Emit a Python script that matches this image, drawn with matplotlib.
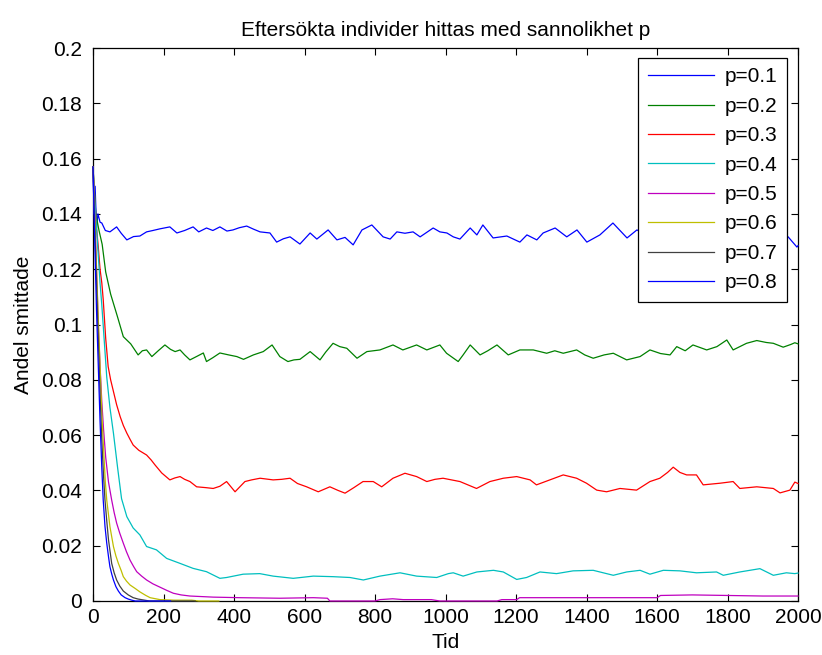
import numpy as np
import matplotlib
matplotlib.use('Agg')
import matplotlib.pyplot as plt

# -------------------------
# DATA: fraction infected over time, one run per search probability p
# each row is [time, fraction]
# -------------------------
p01 = np.array([
    [0, 0.157], [3, 0.140], [6, 0.150], [10, 0.135], [14, 0.140], [20, 0.137],
    [25, 0.1367], [35, 0.134], [48, 0.1335], [67, 0.1353], [80, 0.133], [96, 0.1306],
    [115, 0.1318], [133, 0.132], [152, 0.1335], [170, 0.1340], [190, 0.1346],
    [218, 0.1353], [238, 0.1331], [260, 0.1340], [284, 0.1353], [300, 0.1335],
    [322, 0.1349], [340, 0.1340], [360, 0.1353], [380, 0.1338], [397, 0.1342],
    [415, 0.1350], [436, 0.1356], [455, 0.1345], [474, 0.1335], [502, 0.1331],
    [521, 0.1298], [540, 0.1310], [559, 0.1317], [587, 0.1291], [616, 0.1331],
    [635, 0.1309], [667, 0.1342], [692, 0.1306], [715, 0.1315], [738, 0.1288],
    [763, 0.1342], [791, 0.1360], [823, 0.1317], [843, 0.1309], [862, 0.1335],
    [885, 0.1330], [908, 0.1335], [928, 0.1317], [965, 0.1349], [984, 0.1335],
    [1004, 0.1331], [1022, 0.1317], [1041, 0.1309], [1070, 0.1349], [1089, 0.1324],
    [1106, 0.1360], [1135, 0.1313], [1174, 0.1320], [1211, 0.1298], [1231, 0.1324],
    [1259, 0.1306], [1277, 0.1331], [1311, 0.1349], [1344, 0.1317], [1373, 0.1342],
    [1401, 0.1298], [1438, 0.1324], [1475, 0.1367], [1515, 0.1313], [1543, 0.1342],
    [1580, 0.1320], [1620, 0.1335], [1660, 0.1310], [1700, 0.1330], [1740, 0.1340],
    [1780, 0.1320], [1820, 0.1335], [1860, 0.1315], [1900, 0.1330], [1940, 0.1325],
    [1972, 0.1317], [1997, 0.1280], [2000, 0.1285]])

p02 = np.array([
    [0, 0.157], [3, 0.150], [8, 0.140], [17, 0.134], [26, 0.129], [36, 0.119],
    [50, 0.111], [69, 0.103], [86, 0.0956], [107, 0.0930], [128, 0.0890], [140, 0.0905],
    [152, 0.0908], [167, 0.0884], [185, 0.0905], [204, 0.0926], [220, 0.0910],
    [233, 0.0902], [247, 0.0908], [260, 0.0890], [275, 0.0872], [295, 0.0885],
    [313, 0.0897], [322, 0.0866], [340, 0.0880], [360, 0.0897], [385, 0.0890],
    [408, 0.0884], [427, 0.0874], [455, 0.0890], [483, 0.0902], [508, 0.0926],
    [530, 0.0884], [553, 0.0866], [570, 0.0872], [587, 0.0874], [616, 0.0902],
    [644, 0.0872], [660, 0.0900], [681, 0.0932], [700, 0.0920], [720, 0.0914],
    [749, 0.0878], [777, 0.0902], [814, 0.0908], [851, 0.0926], [879, 0.0908],
    [918, 0.0926], [947, 0.0908], [984, 0.0926], [1003, 0.0896], [1036, 0.0866],
    [1050, 0.0890], [1070, 0.0926], [1098, 0.0890], [1120, 0.0905], [1146, 0.0926],
    [1178, 0.0890], [1211, 0.0908], [1249, 0.0908], [1287, 0.0896], [1310, 0.0905],
    [1334, 0.0896], [1372, 0.0908], [1395, 0.0890], [1419, 0.0878], [1450, 0.0890],
    [1476, 0.0896], [1514, 0.0872], [1552, 0.0884], [1580, 0.0908], [1610, 0.0895],
    [1637, 0.0890], [1656, 0.0920], [1680, 0.0905], [1702, 0.0926], [1741, 0.0908],
    [1770, 0.0920], [1798, 0.0944], [1816, 0.0908], [1854, 0.0932], [1883, 0.0942],
    [1910, 0.0935], [1930, 0.0932], [1958, 0.0918], [1980, 0.0928], [1991, 0.0934],
    [2000, 0.0930]])

p03 = np.array([
    [0, 0.157], [5, 0.145], [10, 0.135], [15, 0.128], [20, 0.120], [25, 0.115],
    [29, 0.109], [36, 0.095], [43, 0.0848], [50, 0.0800], [57, 0.0763], [67, 0.0710],
    [77, 0.0667], [86, 0.0635], [96, 0.0607], [105, 0.0585], [114, 0.0564],
    [130, 0.0545], [152, 0.0528], [165, 0.0510], [176, 0.0492], [195, 0.0463],
    [218, 0.0438], [232, 0.0445], [247, 0.0450], [260, 0.0440], [275, 0.0432],
    [294, 0.0413], [320, 0.0410], [341, 0.0407], [360, 0.0415], [379, 0.0432],
    [403, 0.0395], [431, 0.0432], [450, 0.0438], [474, 0.0444], [511, 0.0438],
    [535, 0.0440], [559, 0.0444], [580, 0.0425], [606, 0.0413], [639, 0.0395],
    [672, 0.0413], [695, 0.0400], [715, 0.0390], [740, 0.0410], [766, 0.0432],
    [795, 0.0432], [819, 0.0413], [851, 0.0444], [885, 0.0462], [918, 0.0450],
    [947, 0.0432], [970, 0.0440], [993, 0.0444], [1041, 0.0432], [1088, 0.0407],
    [1126, 0.0432], [1164, 0.0444], [1202, 0.0450], [1240, 0.0438], [1258, 0.0420],
    [1296, 0.0438], [1334, 0.0456], [1372, 0.0444], [1400, 0.0426], [1429, 0.0401],
    [1457, 0.0395], [1495, 0.0407], [1542, 0.0401], [1580, 0.0432], [1608, 0.0444],
    [1630, 0.0465], [1646, 0.0484], [1665, 0.0465], [1684, 0.0456], [1712, 0.0456],
    [1731, 0.0420], [1779, 0.0426], [1816, 0.0432], [1835, 0.0407], [1883, 0.0413],
    [1930, 0.0407], [1949, 0.0391], [1977, 0.0401], [1991, 0.0430], [2000, 0.0425]])

p04 = np.array([
    [0, 0.157], [5, 0.145], [10, 0.135], [15, 0.125], [20, 0.115], [25, 0.107],
    [32, 0.094], [39, 0.081], [48, 0.070], [58, 0.0607], [70, 0.048], [81, 0.0370],
    [96, 0.0305], [114, 0.0264], [133, 0.0239], [152, 0.0197], [180, 0.0185],
    [209, 0.0154], [247, 0.0136], [284, 0.0118], [322, 0.0106], [360, 0.0082],
    [379, 0.0085], [426, 0.0097], [473, 0.0099], [511, 0.0090], [568, 0.0082],
    [625, 0.0090], [681, 0.0088], [729, 0.0085], [767, 0.0076], [814, 0.0090],
    [871, 0.0102], [918, 0.0090], [975, 0.0085], [1008, 0.0099], [1022, 0.0102],
    [1050, 0.0090], [1089, 0.0105], [1136, 0.0111], [1164, 0.0105], [1202, 0.0078],
    [1230, 0.0085], [1268, 0.0105], [1315, 0.0099], [1362, 0.0109], [1419, 0.0111],
    [1476, 0.0093], [1514, 0.0105], [1552, 0.0111], [1580, 0.0097], [1618, 0.0111],
    [1665, 0.0109], [1712, 0.0102], [1769, 0.0105], [1788, 0.0093], [1835, 0.0105],
    [1892, 0.0117], [1930, 0.0093], [1967, 0.0102], [1991, 0.0099], [2000, 0.0101]])

p05 = np.array([
    [0, 0.157], [5, 0.140], [10, 0.120], [15, 0.100], [20, 0.085], [25, 0.072],
    [30, 0.062], [36, 0.052], [44, 0.043], [53, 0.0365], [60, 0.032], [67, 0.0282],
    [76, 0.0245], [86, 0.0209], [95, 0.0178], [105, 0.0148], [115, 0.0125],
    [124, 0.0106], [138, 0.0090], [152, 0.0076], [170, 0.0062], [190, 0.0050],
    [210, 0.0038], [228, 0.0028], [250, 0.0022], [275, 0.0018], [341, 0.0014],
    [417, 0.0012], [530, 0.0010], [625, 0.0012], [665, 0.0010], [672, 0.0],
    [800, 0.0], [814, 0.0005], [850, 0.0008], [880, 0.0005], [960, 0.0005],
    [984, 0.0], [1146, 0.0], [1160, 0.0005], [1202, 0.0005], [1210, 0.0012],
    [1600, 0.0012], [1610, 0.0020], [1700, 0.0022], [1800, 0.0020], [1900, 0.0018],
    [2000, 0.0018]])

p06 = np.array([
    [0, 0.157], [5, 0.138], [10, 0.120], [15, 0.102], [20, 0.085], [25, 0.068],
    [30, 0.055], [35, 0.043], [39, 0.0365], [48, 0.0269], [58, 0.0197], [65, 0.0163],
    [72, 0.0136], [80, 0.0110], [86, 0.0088], [95, 0.0072], [105, 0.0058],
    [120, 0.0045], [133, 0.0033], [150, 0.0020], [162, 0.0012], [190, 0.0005],
    [230, 0.0003], [280, 0.0003], [300, 0.0], [357, 0.0]])

p07 = np.array([
    [0, 0.157], [5, 0.135], [10, 0.115], [15, 0.095], [20, 0.075], [25, 0.058],
    [30, 0.045], [34, 0.0365], [39, 0.029], [44, 0.0221], [53, 0.0136], [60, 0.0102],
    [67, 0.0076], [76, 0.0054], [86, 0.0036], [100, 0.0022], [114, 0.0012],
    [128, 0.0007], [142, 0.0004], [160, 0.0], [290, 0.0]])

p08 = np.array([
    [0, 0.157], [5, 0.130], [10, 0.105], [15, 0.085], [20, 0.065], [25, 0.048],
    [29, 0.0365], [34, 0.027], [39, 0.0209], [44, 0.016], [48, 0.0124], [53, 0.0098],
    [58, 0.0076], [65, 0.0052], [72, 0.0036], [80, 0.0022], [91, 0.0012],
    [100, 0.0007], [110, 0.0003], [120, 0.0], [220, 0.0]])

series = [p01, p02, p03, p04, p05, p06, p07, p08]
labels = ['p=0.1', 'p=0.2', 'p=0.3', 'p=0.4', 'p=0.5', 'p=0.6', 'p=0.7', 'p=0.8']
# old MATLAB colour order, wrapping back to blue for the 8th line
colors = ['#0000ff', '#008000', '#ff0000', '#00bfbf', '#bf00bf', '#bfbf00', '#404040', '#0000ff']

yticks = [0, 0.02, 0.04, 0.06, 0.08, 0.1, 0.12, 0.14, 0.16, 0.18, 0.2]
ytick_labels = ['0', '0.02', '0.04', '0.06', '0.08', '0.1', '0.12', '0.14', '0.16', '0.18', '0.2']
xticks = [0, 200, 400, 600, 800, 1000, 1200, 1400, 1600, 1800, 2000]

# -------------------------
# PLOT
# -------------------------
plt.rcParams['font.family'] = ['Liberation Sans', 'DejaVu Sans']
fs = 15

fig = plt.figure(figsize=(8.22, 6.55), dpi=100, facecolor='w')
ax = fig.add_axes([93/822, 54/655, 705/822, 553/655])

for d, lab, c in zip(series, labels, colors):
    ax.plot(d[:, 0], d[:, 1], color=c, lw=0.9, label=lab, clip_on=False, zorder=3)

ax.set_xlim(0, 2000)
ax.set_ylim(0, 0.2)
ax.set_xticks(xticks)
ax.set_xticklabels([str(x) for x in xticks], fontsize=fs)
ax.set_yticks(yticks)
ax.set_yticklabels(ytick_labels, fontsize=fs)
ax.tick_params(direction='in', length=5, width=0.8, top=True, right=True)
ax.tick_params(axis='y', pad=8)
ax.tick_params(axis='x', pad=5)
for s in ax.spines.values():
    s.set_linewidth(0.9)

ax.set_title('Eftersökta individer hittas med sannolikhet p', fontsize=fs, pad=9)
ax.set_xlabel('Tid', fontsize=fs, labelpad=4)
ax.set_ylabel('Andel smittade', fontsize=fs, labelpad=6)

leg = ax.legend(loc='upper right', bbox_to_anchor=(0.9844, 0.9819), borderaxespad=0,
                fontsize=fs, frameon=True, fancybox=False, framealpha=1,
                edgecolor='k', handlelength=3.2, handletextpad=0.5,
                labelspacing=0.5, borderpad=0.45)
leg.get_frame().set_linewidth(0.9)

fig.savefig('out.png', dpi=100)
